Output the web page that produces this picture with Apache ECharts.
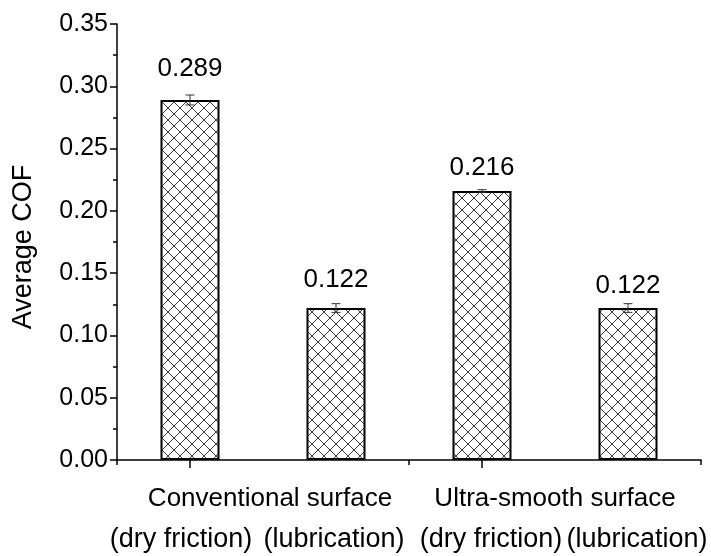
<!DOCTYPE html>
<html>
<head>
<meta charset="utf-8">
<script src="https://cdn.jsdelivr.net/npm/echarts@6/dist/echarts.min.js"></script>
<style>
  html, body { margin: 0; padding: 0; background: #fff; }
  #chart { width: 711px; height: 556px; }
</style>
</head>
<body>
<div id="chart"></div>
<script>
// Average coefficient of friction for the two surfaces under dry and lubricated sliding
const categories = ['Conventional dry', 'Conventional lubricated', 'Ultra-smooth dry', 'Ultra-smooth lubricated'];
const surfaceNames = ['Conventional surface', 'Ultra-smooth surface'];
const conditionNames = ['(dry friction)', '(lubrication)', '(dry friction)', '(lubrication)'];
const avgCOF = [0.289, 0.122, 0.216, 0.122];
const cofError = [0.004, 0.0035, 0.001, 0.0035];
const yAxisTitle = 'Average COF';

// label lift above each bar (px)
const labelLift = [18, 15, 10, 9];

const FONT = "'Liberation Sans', Arial, sans-serif";

// cross-hatch fill for the bars
function hatchTile() {
  const c = document.createElement('canvas');
  c.width = 12; c.height = 12;
  const g = c.getContext('2d');
  g.fillStyle = '#fff';
  g.fillRect(0, 0, 12, 12);
  g.strokeStyle = '#3c3c3c';
  g.lineWidth = 1;
  g.beginPath();
  g.moveTo(-1, -1); g.lineTo(13, 13);
  g.moveTo(13, -1); g.lineTo(-1, 13);
  g.stroke();
  return c;
}
const hatch = { image: hatchTile(), repeat: 'repeat' };

const chart = echarts.init(document.getElementById('chart'), null, { renderer: 'canvas' });

const barData = avgCOF.map((v, i) => ({
  value: v,
  label: { distance: labelLift[i] }
}));
const errData = avgCOF.map((v, i) => [i, v, cofError[i]]);

// group captions (centred between bar pairs) and per-bar condition captions
const surfaceX = [270, 555];
const conditionX = [181, 334, 491, 637];

const captions = [];
surfaceNames.forEach((t, i) => captions.push({
  type: 'text', x: surfaceX[i], y: 499,
  style: { text: t, font: '26px ' + FONT, fill: '#000', textAlign: 'center', textVerticalAlign: 'middle' }
}));
conditionNames.forEach((t, i) => captions.push({
  type: 'text', x: conditionX[i], y: 540,
  style: { text: t, font: '27px ' + FONT, fill: '#000', textAlign: 'center', textVerticalAlign: 'middle' }
}));
captions.push({
  type: 'text', x: 24, y: 247, rotation: Math.PI / 2,
  style: { text: yAxisTitle, font: '27px ' + FONT, fill: '#000', textAlign: 'center', textVerticalAlign: 'middle' }
});

chart.setOption({
  animation: false,
  backgroundColor: '#fff',
  grid: { left: 117, right: 10, top: 24, bottom: 96, containLabel: false },
  xAxis: [
    {
      type: 'category',
      data: categories,
      boundaryGap: true,
      axisLine: { show: true, lineStyle: { color: '#000', width: 1.5 } },
      axisTick: { show: true, alignWithLabel: true, length: 8, lineStyle: { color: '#000', width: 1.5 } },
      axisLabel: { show: false },
      splitLine: { show: false }
    },
    {
      type: 'category',
      data: categories,
      position: 'bottom',
      boundaryGap: true,
      axisLine: { show: false },
      axisTick: { show: true, alignWithLabel: false, length: 5, lineStyle: { color: '#000', width: 1.5 } },
      axisLabel: { show: false },
      splitLine: { show: false }
    }
  ],
  yAxis: {
    type: 'value',
    min: 0,
    max: 0.35,
    interval: 0.05,
    axisLine: { show: true, lineStyle: { color: '#000', width: 1.5 } },
    axisTick: { show: true, length: 7, lineStyle: { color: '#000', width: 1.5 } },
    minorTick: { show: true, splitNumber: 2, length: 4, lineStyle: { color: '#000', width: 1.5 } },
    axisLabel: {
      margin: 9,
      fontFamily: FONT,
      fontSize: 25,
      color: '#000',
      formatter: v => v.toFixed(2)
    },
    splitLine: { show: false }
  },
  graphic: captions,
  series: [
    {
      type: 'bar',
      xAxisIndex: 0,
      data: barData,
      barWidth: 59,
      itemStyle: { color: hatch, borderColor: '#000', borderWidth: 2 },
      label: {
        show: true,
        position: 'top',
        fontFamily: FONT,
        fontSize: 26,
        color: '#000',
        formatter: p => p.value.toFixed(3)
      },
      z: 2
    },
    {
      type: 'custom',
      xAxisIndex: 0,
      data: errData,
      z: 5,
      renderItem: (params, api) => {
        const x = api.coord([api.value(0), 0])[0];
        const hi = api.coord([api.value(0), api.value(1) + api.value(2)])[1];
        const lo = api.coord([api.value(0), api.value(1) - api.value(2)])[1];
        const half = 4.5;
        const st = { stroke: '#333', lineWidth: 1 };
        return {
          type: 'group',
          children: [
            { type: 'line', shape: { x1: x, y1: hi, x2: x, y2: lo }, style: st },
            { type: 'line', shape: { x1: x - half, y1: hi, x2: x + half, y2: hi }, style: st },
            { type: 'line', shape: { x1: x - half, y1: lo, x2: x + half, y2: lo }, style: st }
          ]
        };
      }
    }
  ]
});
</script>
</body>
</html>
